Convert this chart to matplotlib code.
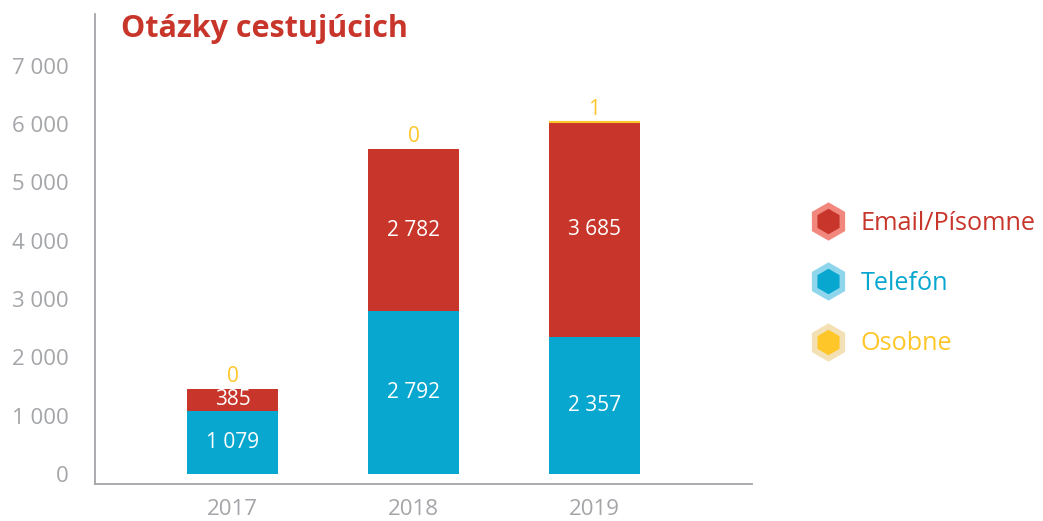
import matplotlib.pyplot as plt
from matplotlib.lines import Line2D

plt.rcParams['font.family'] = ['Open Sans', 'DejaVu Sans']

# data
years = ['2017', '2018', '2019']
telefon = [1079, 2792, 2357]
email = [385, 2782, 3685]
osobne = [0, 0, 1]

red = '#C8352A'
blue = '#08A7D0'
yellow = '#FFC629'
gray = '#A3A5A8'


def fmt(v):
    return f'{v:,}'.replace(',', ' ')


fig = plt.figure(figsize=(10.43, 5.21), dpi=100)
ax = fig.add_axes([95/1043, 1 - 484/521, (752 - 95)/1043, (484 - 14)/521])

x = list(range(len(years)))
ax.bar(x, telefon, width=0.5, color=blue)
ax.bar(x, email, width=0.5, bottom=telefon, color=red)
bottom2 = [t + e for t, e in zip(telefon, email)]
ax.bar(x, osobne, width=0.5, bottom=bottom2, color=yellow,
       edgecolor=yellow, linewidth=[1.5 if v > 0 else 0 for v in osobne])

# labels inside bars
for i in x:
    ax.text(i, telefon[i] / 2, fmt(telefon[i]), ha='center', va='center',
            color='white', fontsize=15)
    ax.text(i, telefon[i] + email[i] / 2, fmt(email[i]), ha='center', va='center',
            color='white', fontsize=15)
    ax.text(i, bottom2[i] + osobne[i] + 30, fmt(osobne[i]), ha='center', va='bottom',
            color=yellow, fontsize=15)

ax.set_xlim(-0.76, 2.87)
ax.set_ylim(-172, 7890)
ax.set_yticks(range(0, 8000, 1000))
ax.set_yticklabels([fmt(v) for v in range(0, 8000, 1000)])
ax.set_xticks(x)
ax.set_xticklabels(years)
ax.tick_params(length=0, labelsize=16, colors=gray)
ax.tick_params(axis='x', pad=11)
ax.tick_params(axis='y', pad=19)

for s in ['top', 'right']:
    ax.spines[s].set_visible(False)
for s in ['left', 'bottom']:
    ax.spines[s].set_color(gray)
    ax.spines[s].set_linewidth(1.3)

fig.text(121/1043, 1 - 29/521, 'Otázky cestujúcich', color=red, fontsize=22,
         fontweight='bold', va='center', ha='left')

# legend
handles = [
    Line2D([], [], marker='h', linestyle='none', markersize=23, markeredgewidth=4,
           markerfacecolor=red, markeredgecolor='#F2877E', label='Email/Písomne'),
    Line2D([], [], marker='h', linestyle='none', markersize=23, markeredgewidth=4,
           markerfacecolor=blue, markeredgecolor='#8FD6EC', label='Telefón'),
    Line2D([], [], marker='h', linestyle='none', markersize=23, markeredgewidth=4,
           markerfacecolor=yellow, markeredgecolor='#F3E0B5', label='Osobne'),
]
fig.legend(handles=handles, loc='upper left', bbox_to_anchor=(790/1043, 1 - 198/521),
           frameon=False, fontsize=18.2, labelcolor='markerfacecolor',
           labelspacing=1.4, handletextpad=0.3, borderpad=0)

fig.savefig('out.png', dpi=100)
